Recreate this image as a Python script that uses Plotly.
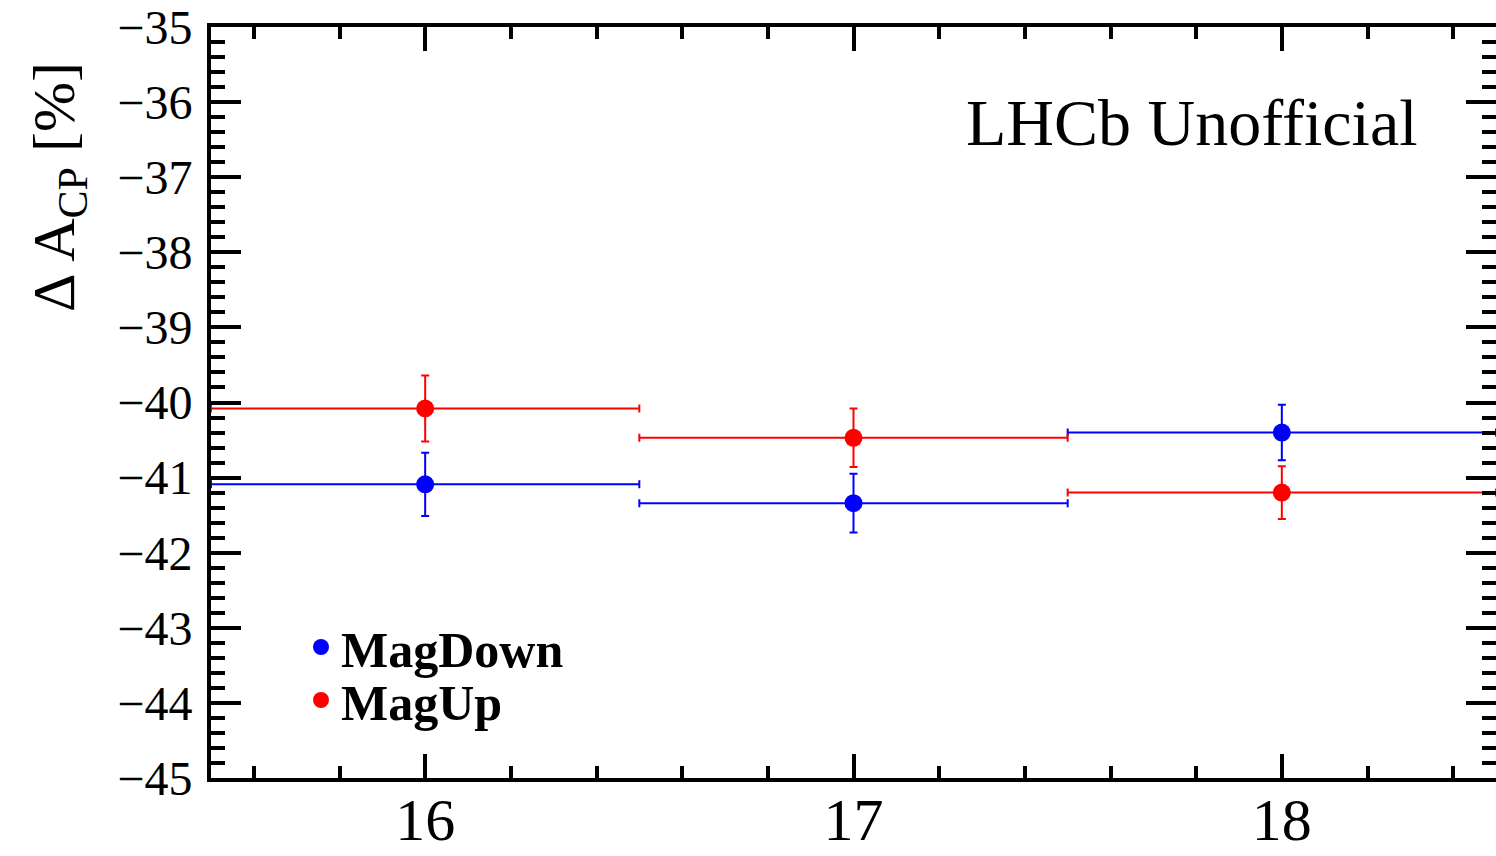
import plotly.graph_objects as go

# Data
bins = [16, 17, 18]
bin_half_width = [0.5, 0.5, 0.5]
magdown = [-41.09, -41.34, -40.40]
magdown_err = [0.42, 0.39, 0.37]
magup = [-40.08, -40.47, -41.20]
magup_err = [0.44, 0.39, 0.35]

FONT = "Liberation Serif, Times New Roman, serif"

L, R, T, B = 211, 0, 27, 78
W, H = 1496, 856
PW, PH = W - L - R, H - T - B

def px(xp):
    return (xp - L) / PW

def py(yp):
    return (H - B - yp) / PH

fig = go.Figure()

def add_series(name, y, yerr, color, legend):
    fig.add_trace(go.Scatter(
        x=bins, y=y, mode="markers", name=name, legend=legend,
        marker=dict(color=color, size=18, symbol="circle"),
        error_y=dict(type="data", array=yerr, visible=True, color=color,
                     thickness=2, width=4),
        error_x=dict(type="data", array=bin_half_width, visible=True, color=color,
                     thickness=2, width=4),
    ))

add_series("MagDown", magdown, magdown_err, "#0000ff", "legend")
add_series("MagUp", magup, magup_err, "#ff0000", "legend2")

axis_common = dict(
    showline=True, linecolor="black", linewidth=4, mirror="ticks",
    ticks="inside", tickwidth=4, tickcolor="black",
    showgrid=False, zeroline=False, automargin=False,
)

fig.update_xaxes(
    range=[15.5, 18.5], dtick=1, tick0=16, ticklen=24,
    tickfont=dict(family=FONT, size=60, color="black"),
    ticklabelstandoff=-14,
    minor=dict(dtick=0.2, ticks="inside", ticklen=12, tickwidth=4, tickcolor="black", showgrid=False),
    **axis_common,
)
fig.update_yaxes(
    range=[-45, -35], dtick=1, ticklen=30,
    tickfont=dict(family=FONT, size=48, color="black"),
    ticklabelstandoff=5,
    minor=dict(dtick=0.2, ticks="inside", ticklen=14, tickwidth=4, tickcolor="black", showgrid=False),
    **axis_common,
)

# y-axis title, aligned towards the top end of the axis (ROOT style)
fig.add_annotation(
    text="Δ A<sub>CP</sub> [%]", xref="paper", yref="paper",
    x=px(58), y=py(187), xanchor="center", yanchor="middle",
    textangle=-90, showarrow=False,
    font=dict(family=FONT, size=60, color="black"),
)

fig.add_annotation(
    text="LHCb Unofficial", xref="paper", yref="paper",
    x=px(1420), y=py(122),
    xanchor="right", yanchor="middle", showarrow=False,
    font=dict(family=FONT, size=66, color="black"),
)

leg_font = dict(family=FONT, size=50, color="black", weight="bold")
fig.update_layout(
    width=W, height=H,
    margin=dict(l=L, r=R, t=T, b=B),
    paper_bgcolor="white", plot_bgcolor="white",
    showlegend=True,
    legend=dict(
        x=px(301), y=py(647), xanchor="left", yanchor="middle",
        bgcolor="rgba(0,0,0,0)", font=leg_font, itemwidth=30,
    ),
    legend2=dict(
        x=px(301), y=py(700), xanchor="left", yanchor="middle",
        bgcolor="rgba(0,0,0,0)", font=leg_font, itemwidth=30,
    ),
)

fig.write_html("out.html")
